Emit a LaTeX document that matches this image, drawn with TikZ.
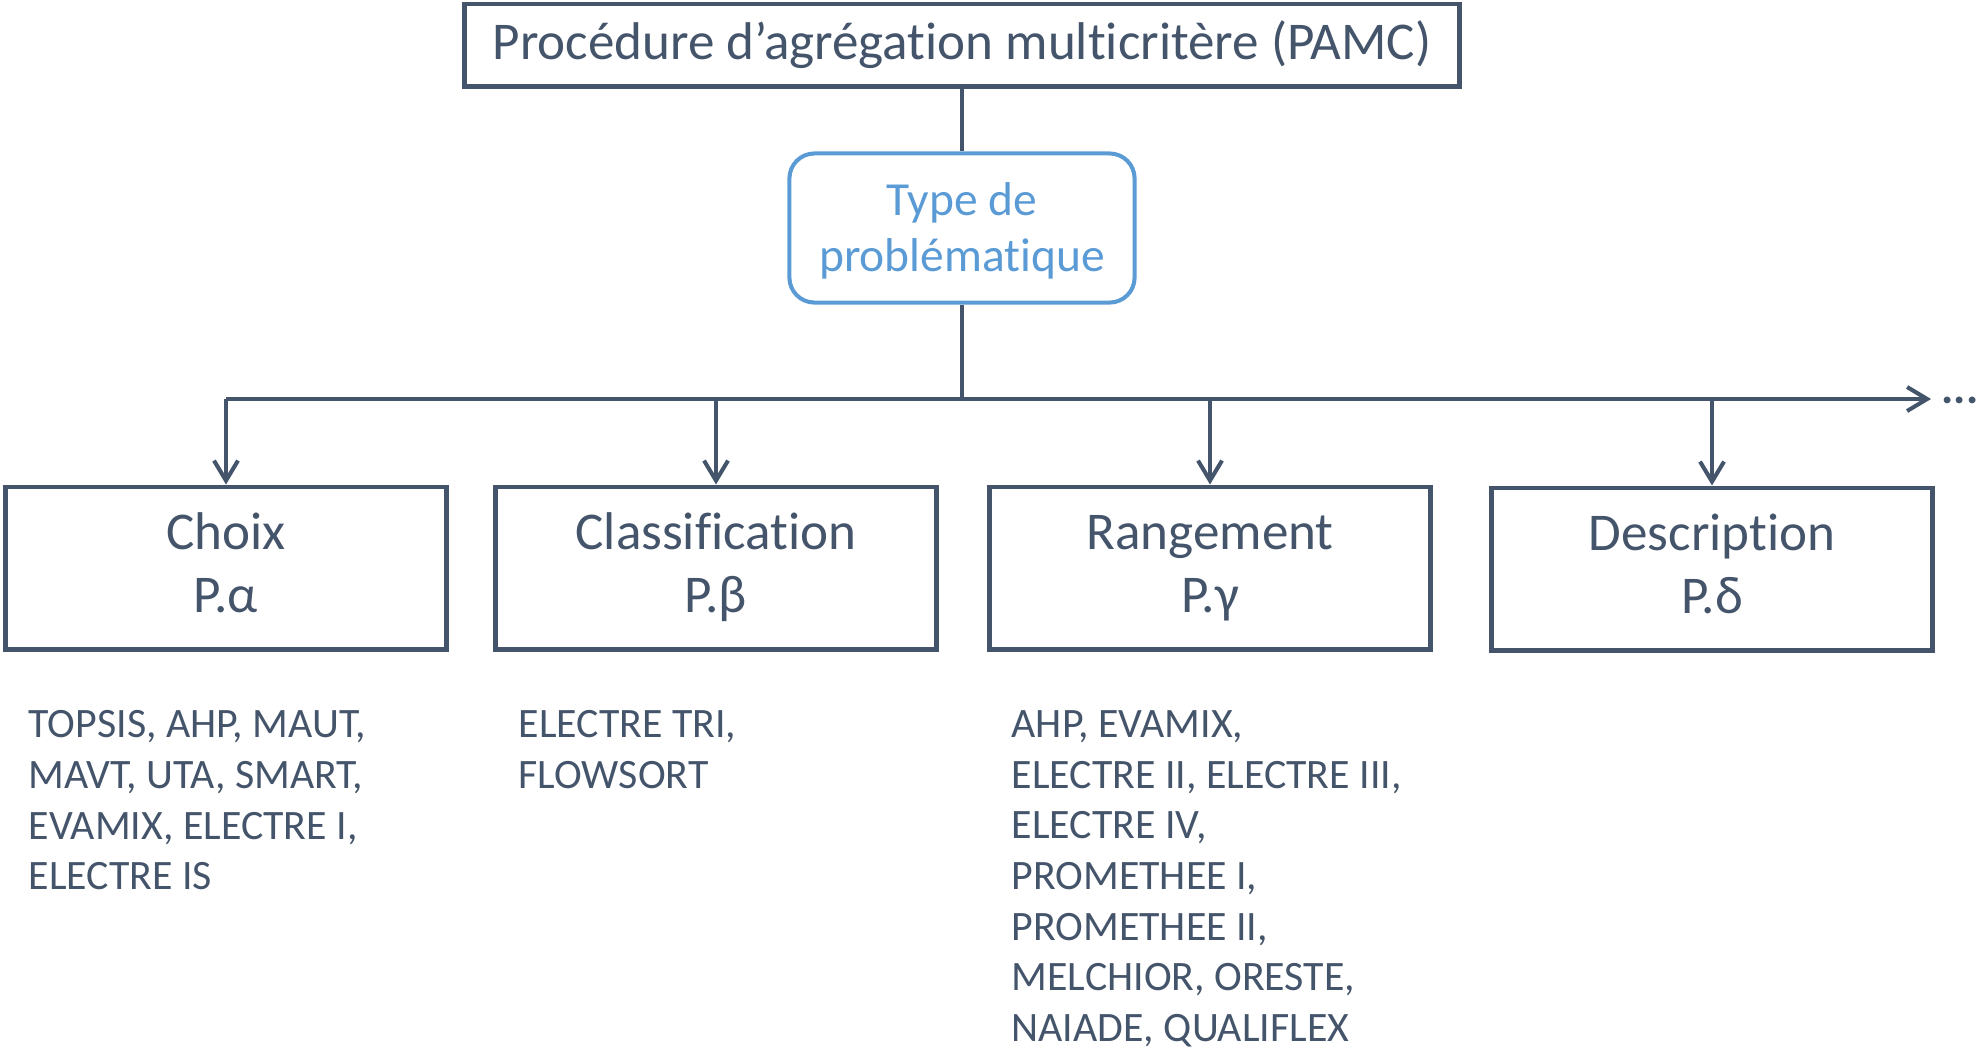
\documentclass[tikz,border=0pt]{standalone}
\usepackage{fontspec}
\setmainfont{Carlito}[Ligatures={NoCommon}]
\usetikzlibrary{arrows.meta}
\definecolor{slate}{HTML}{44546A}
\definecolor{skyblue}{HTML}{5B9BD5}

\begin{document}
\begin{tikzpicture}[x=0.01cm,y=-0.01cm,
	every node/.style={text=slate},
	link/.style={color=slate,line width=1.15pt},
	trunk/.style={color=slate,line width=1.4pt},
	tip/.style={-{Straight Barb[length=0.2cm,width=0.24cm,line width=1.15pt]}},
	titlebox/.style={draw=slate,line width=1.4pt,minimum width=9.94cm,minimum height=0.82cm,
		font=\fontsize{15.1pt}{17.8pt}\selectfont},
	typebox/.style={draw=skyblue,line width=1.15pt,rounded corners=0.25cm,text=skyblue,align=center,
		minimum width=3.45cm,minimum height=1.49cm,font=\fontsize{13.5pt}{15.8pt}\selectfont},
	probbox/.style={draw=slate,line width=1.4pt,minimum width=4.4cm,minimum height=1.62cm,align=center,
		font=\fontsize{15.1pt}{17.9pt}\selectfont},
	methods/.style={anchor=north west,inner sep=0pt,align=left,font=\fontsize{11.9pt}{14.4pt}\selectfont}]
	\useasboundingbox (0,0) rectangle (1980,1047);

	\node[titlebox] (pamc) at (962,45) {Procédure d’agrégation multicritère (PAMC)};
	\node[typebox] (type) at (962,228) {\strut Type de\\problématique};
	\coordinate (split) at (962,399);
	\coordinate (more) at (1931,399);

	\node[probbox] (choix) at (226,568) {\strut Choix\\P.α\strut};
	\node[probbox] (classif) at (716,568) {\strut Classification\\P.β\strut};
	\node[probbox] (rang) at (1210,568) {\strut Rangement\\P.γ\strut};
	\node[probbox] (descr) at (1712,569) {\strut Description\\P.δ\strut};

	\node[methods] (mchoix) at (28,710) {TOPSIS, AHP, MAUT,\\MAVT, UTA, SMART,\\EVAMIX, ELECTRE I,\\ELECTRE IS};
	\node[methods] (mclassif) at (518,710) {ELECTRE TRI,\\FLOWSORT};
	\node[methods] (mrang) at (1011,710) {AHP, EVAMIX,\\ELECTRE II, ELECTRE III,\\ELECTRE IV,\\PROMETHEE I,\\PROMETHEE II,\\MELCHIOR, ORESTE,\\NAIADE, QUALIFLEX};

	\node[anchor=west,inner sep=0pt,font=\fontsize{13pt}{14pt}\selectfont\bfseries] (dots) at (1941,400) {...};

	\path[link]
	(pamc) edge (type)
	(type) edge (split)
	(split) edge (classif |- split)
	;
	\path[trunk,tip]
	(classif |- split) edge (more)
	;
	\path[link,tip]
	(classif |- split) edge[-] (choix |- split)
	(choix |- split) edge (choix)
	(classif |- split) edge (classif)
	(rang |- split) edge (rang)
	(descr |- split) edge (descr)
	;
\end{tikzpicture}
\end{document}
